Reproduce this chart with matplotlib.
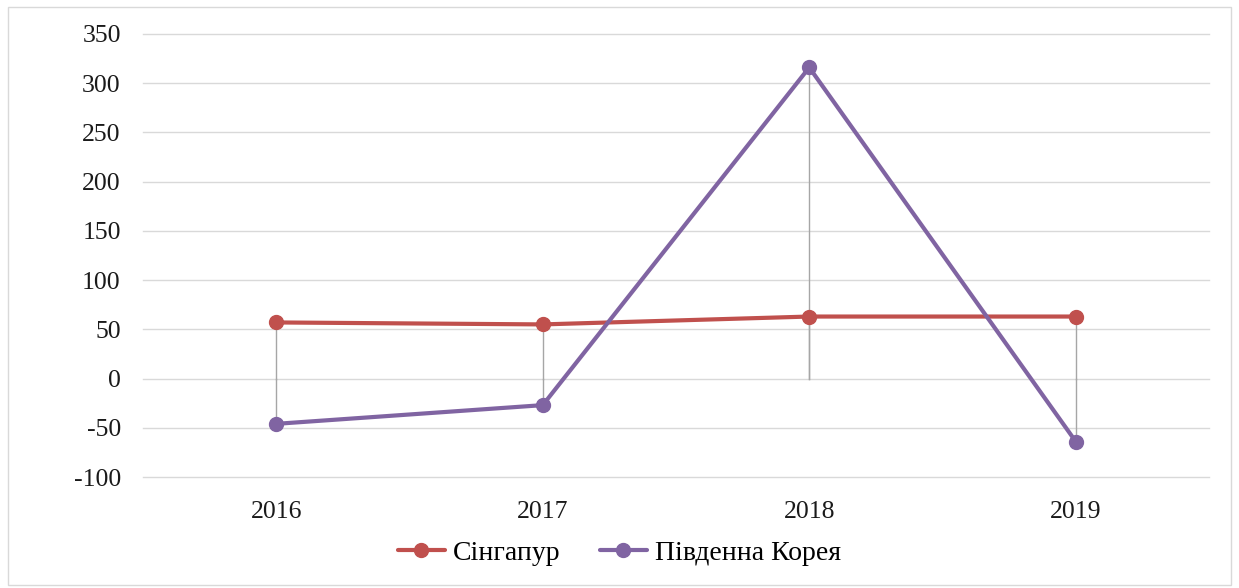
import matplotlib.pyplot as plt
import matplotlib.patches as patches

years = ['2016', '2017', '2018', '2019']
singapore = [57, 55, 63, 63]
korea = [-46, -27, 316, -64]
labels = ['Сінгапур', 'Південна Корея']

plt.rcParams['font.family'] = ['Liberation Serif', 'DejaVu Serif']
plt.rcParams['axes.unicode_minus'] = False

fig = plt.figure(figsize=(12.39, 5.88), dpi=100)
ax = fig.add_axes([143 / 1239, 1 - 477 / 588, (1209 - 143) / 1239, (477 - 34) / 588])

x = list(range(len(years)))

# drop lines from each point down/up to zero
for i in x:
    for v in (singapore[i], korea[i]):
        ax.plot([i, i], [0, v], color='#a6a6a6', lw=1, zorder=1)

ax.plot(x, singapore, color='#c0504d', lw=3, marker='o', markersize=10,
        label=labels[0], zorder=3, solid_capstyle='round')
ax.plot(x, korea, color='#8064a2', lw=3, marker='o', markersize=10,
        label=labels[1], zorder=3, solid_capstyle='round')

ax.set_xlim(-0.5, 3.5)
ax.set_ylim(-100, 350)
ax.set_yticks(range(-100, 351, 50))
ax.set_xticks(x)
ax.set_xticklabels(years)
ax.grid(axis='y', color='#d9d9d9', lw=1)
for gl in ax.get_ygridlines():
    gl.set_clip_on(False)
ax.set_axisbelow(True)
for s in ax.spines.values():
    s.set_visible(False)
ax.tick_params(length=0, labelsize=18.5, colors='#1a1a1a')
ax.tick_params(axis='y', pad=16)
ax.tick_params(axis='x', pad=17)

fig.legend(loc='center', bbox_to_anchor=(0.5, 1 - 553 / 588), ncol=2, frameon=False,
           fontsize=20, handlelength=1.7, columnspacing=1.4, handletextpad=0.3)

fig.patches.append(patches.Rectangle((8 / 1239, 3 / 588), 1223 / 1239, 578 / 588,
                                     transform=fig.transFigure, fill=False,
                                     edgecolor='#d9d9d9', lw=1))

fig.savefig('out.png', dpi=100)
